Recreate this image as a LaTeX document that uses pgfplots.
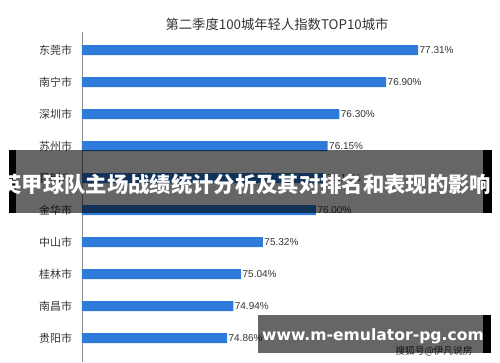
\documentclass[border=0pt]{standalone}
\usepackage{pgfplots}
\pgfplotsset{compat=1.18}
\usepackage{pgfplotstable}
\usepackage{fontspec}
\setmainfont{Liberation Sans}
\newfontfamily\cjk{Noto Sans CJK SC}
\newfontfamily\wmfont{DejaVu Sans}
\definecolor{barblue}{HTML}{2F7BDB}
\definecolor{txt}{HTML}{333333}
\pgfplotstableread{
idx val
0 77.31
1 76.90
2 76.30
3 76.15
4 76.12
5 76.00
6 75.32
7 75.04
8 74.94
9 74.86
}\datatable
\begin{document}
\begin{tikzpicture}[x=0.75pt,y=-0.75pt]
\path[use as bounding box] (0,0) rectangle (500,362);
\node[font=\cjk\fontsize{10}{11}\selectfont,text=txt] at (277,24) {第二季度100城年轻人指数TOP10城市};
\begin{axis}[
  at={(61.5pt,-271.5pt)}, anchor=south west,
  scale only axis, width=300pt, height=247.5pt,
  xmin=73, xmax=78.13, ymin=-0.5625, ymax=9.75,
  y dir=reverse,
  axis x line=none,
  axis y line=left,
  axis line style={-,draw=gray!90},
  ytick={0,...,9},
  yticklabels={东莞市,南宁市,深圳市,苏州市,昆明市,金华市,中山市,桂林市,南昌市,贵阳市},
  yticklabel style={font=\cjk\fontsize{8.2}{10}\selectfont,text=txt,xshift=-4pt},
  major tick length=0pt,
  clip mode=individual,
  /pgf/number format/assume math mode=true,
]
\addplot[xbar, bar width=7.5pt, bar shift=0pt, fill=barblue, draw=none,
  nodes near coords={\pgfmathprintnumber[fixed,precision=2,fixed zerofill,assume math mode=true]{\pgfplotspointmeta}\%},
  point meta=explicit,
  nodes near coords style={font=\fontsize{7.5}{9}\selectfont,text=txt,anchor=west,inner xsep=1pt},
] table[x=val,y=idx,meta=val] {\datatable};
\end{axis}
\node[font=\cjk\fontsize{7.3}{9}\selectfont,text=txt] at (434,351) {搜狐号@伊凡说房};
% banner overlay
\fill[black,opacity=0.6] (16,150) rectangle (483,213);
\fill[black] (9,150) rectangle (16,213);
\fill[black] (483,150) rectangle (492,213);
\node[font=\cjk\bfseries\fontsize{16}{18}\selectfont,text=white,inner sep=0pt] at (246,184) {英甲球队主场战绩统计分析及其对排名和表现的影响};
% watermark
\fill[black,opacity=0.6] (258,315) rectangle (483,353);
\fill[black] (483,315) rectangle (491,353);
\node[font=\wmfont\bfseries\fontsize{11.7}{15}\selectfont,text=white,inner sep=0pt] at (373,336) {www.m-emulator-pg.com};
\end{tikzpicture}
\end{document}
